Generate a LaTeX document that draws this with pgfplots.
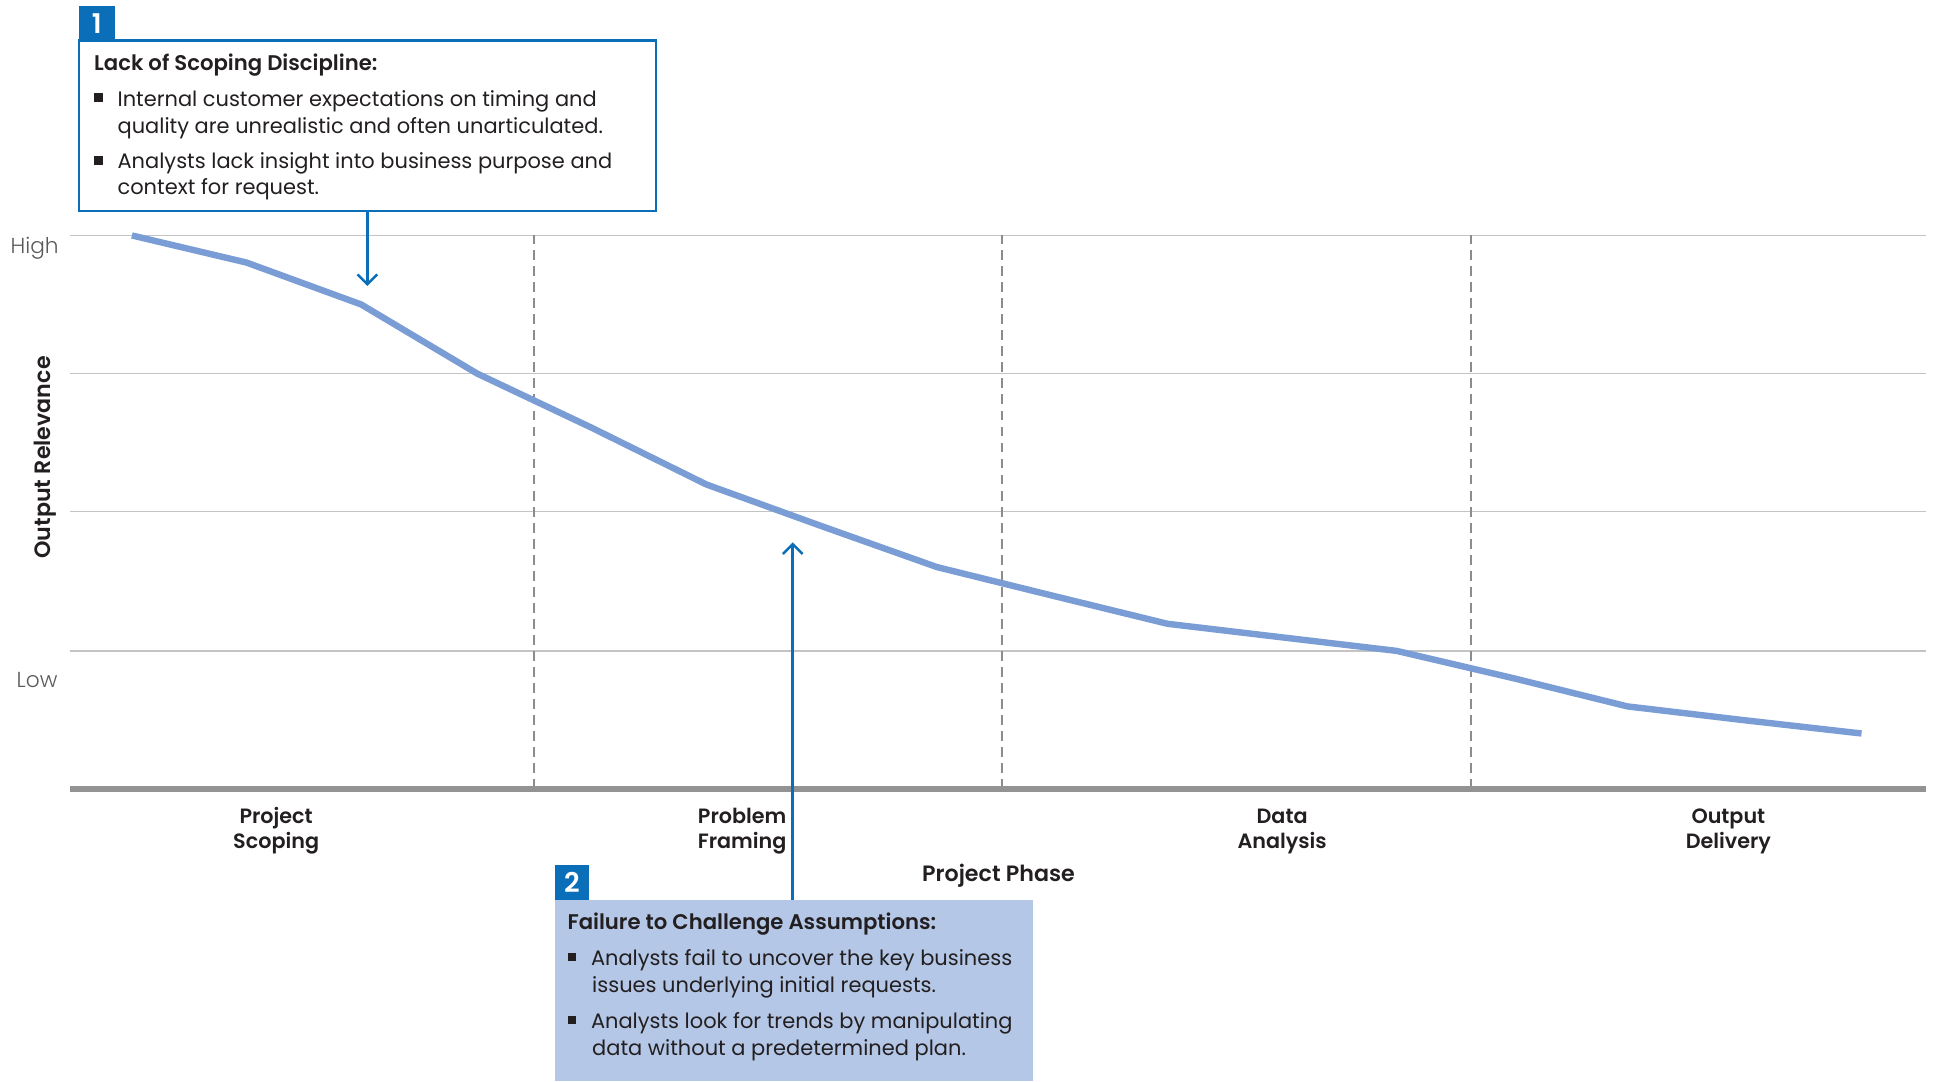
\documentclass[border=0pt]{standalone}
\usepackage{pgfplots}
\pgfplotsset{compat=1.18}
\usepackage{fontspec}
\setmainfont{Poppins}[BoldFont={Poppins SemiBold}]
\newfontfamily\lightf{Poppins Light}
\usetikzlibrary{arrows.meta}
\definecolor{cblue}{HTML}{0B6EB8}
\definecolor{cfill}{HTML}{B4C7E7}
\definecolor{linec}{HTML}{7B9DD5}
\definecolor{gridgray}{HTML}{C4C4C4}
\definecolor{dashgray}{HTML}{8C8C8C}
\definecolor{basegray}{HTML}{939393}
\definecolor{txt}{HTML}{231F20}
\definecolor{lowgray}{HTML}{5A5A5A}
\newcommand{\bul}{\makebox[9.5pt][l]{\rule[1.6pt]{3.5pt}{3.5pt}}}
\tikzset{
  catlab/.style={anchor=base, inner sep=0pt, font=\fontsize{8.4}{10}\selectfont\bfseries, text=txt},
  bodyt/.style={anchor=base west, inner sep=0pt, font=\fontsize{8.5}{10}\selectfont, text=txt},
  bodyb/.style={anchor=base west, inner sep=0pt, font=\fontsize{8.6}{10}\selectfont\bfseries, text=txt},
}
\begin{document}
\begin{tikzpicture}
\begin{axis}[
  width=752.5pt, height=224.5pt, scale only axis,
  xmin=57, xmax=1562, ymin=0, ymax=449,
  axis line style={draw=none},
  xtick=\empty,
  ytick={112,225,337,449}, yticklabels={}, major tick length=0pt,
  ymajorgrids, grid style={color=gridgray, line width=0.6pt},
  extra x ticks={433,813,1193}, extra x tick labels={},
  extra x tick style={xmajorgrids=true, major grid style={color=dashgray, line width=0.8pt, dash pattern=on 4pt off 2.5pt}},
  clip=false,
]
\path (axis cs:0,640) rectangle (axis cs:1568,-237);
\draw[basegray, line width=2.6pt] (axis cs:57,0) -- (axis cs:1562,0);
\addplot[color=linec, line width=2.6pt, line join=round, mark=none] coordinates {
(107,449) (200,427) (293,393) (387,337) (480,293) (573,247) (667,213) (760,180)
(853,157) (947,134) (1040,123) (1133,112) (1227,90) (1320,67) (1413,56) (1510,45)
};
% y axis labels
\node[anchor=base east, inner sep=0pt, font=\fontsize{8.8}{10}\selectfont\lightf, text=lowgray] at (axis cs:48,434) {High};
\node[anchor=base east, inner sep=0pt, font=\fontsize{8.8}{10}\selectfont\lightf, text=lowgray] at (axis cs:47,82) {Low};
\node[rotate=90, inner sep=0pt, font=\fontsize{9}{10}\selectfont\bfseries, text=txt] at (axis cs:37,269) {Output Relevance};
% categories
\node[catlab] at (axis cs:224,-28) {Project};
\node[catlab] at (axis cs:224,-48) {Scoping};
\node[catlab] at (axis cs:602,-28) {Problem};
\node[catlab] at (axis cs:602,-48) {Framing};
\node[catlab] at (axis cs:1040,-28) {Data};
\node[catlab] at (axis cs:1040,-48) {Analysis};
\node[catlab] at (axis cs:1402,-28) {Output};
\node[catlab] at (axis cs:1402,-48) {Delivery};
\node[catlab, font=\fontsize{9}{10}\selectfont\bfseries] at (axis cs:810,-75) {Project Phase};
% callout 1
\draw[cblue, line width=1pt, -{Straight Barb[length=4pt, width=8pt]}] (axis cs:298,469) -- (axis cs:298,408);
\draw[cblue, line width=1pt, fill=white] (axis cs:64,469) rectangle (axis cs:532,607);
\fill[cblue] (axis cs:64,606) rectangle (axis cs:93,635);
\node[font=\fontsize{11}{12}\selectfont\bfseries, text=white] at (axis cs:78.5,620.5) {1};
\node[bodyb] at (axis cs:76,583) {Lack of Scoping Discipline:};
\node[bodyt] at (axis cs:76,554) {\bul Internal customer expectations on timing and};
\node[bodyt] at (axis cs:95,532) {quality are unrealistic and often unarticulated.};
\node[bodyt] at (axis cs:76,503) {\bul Analysts lack insight into business purpose and};
\node[bodyt] at (axis cs:95,482) {context for request.};
% callout 2
\draw[cblue, line width=1pt, -{Straight Barb[length=4pt, width=8pt]}] (axis cs:643,-90) -- (axis cs:643,200);
\fill[cfill] (axis cs:450,-237) rectangle (axis cs:838,-90);
\fill[cblue] (axis cs:450,-90) rectangle (axis cs:478,-62);
\node[font=\fontsize{11}{12}\selectfont\bfseries, text=white] at (axis cs:464,-76) {2};
\node[bodyb] at (axis cs:460,-114) {Failure to Challenge Assumptions:};
\node[bodyt] at (axis cs:460,-143) {\bul Analysts fail to uncover the key business};
\node[bodyt] at (axis cs:480,-165) {issues underlying initial requests.};
\node[bodyt] at (axis cs:460,-194) {\bul Analysts look for trends by manipulating};
\node[bodyt] at (axis cs:480,-216) {data without a predetermined plan.};
\end{axis}
\end{tikzpicture}
\end{document}
